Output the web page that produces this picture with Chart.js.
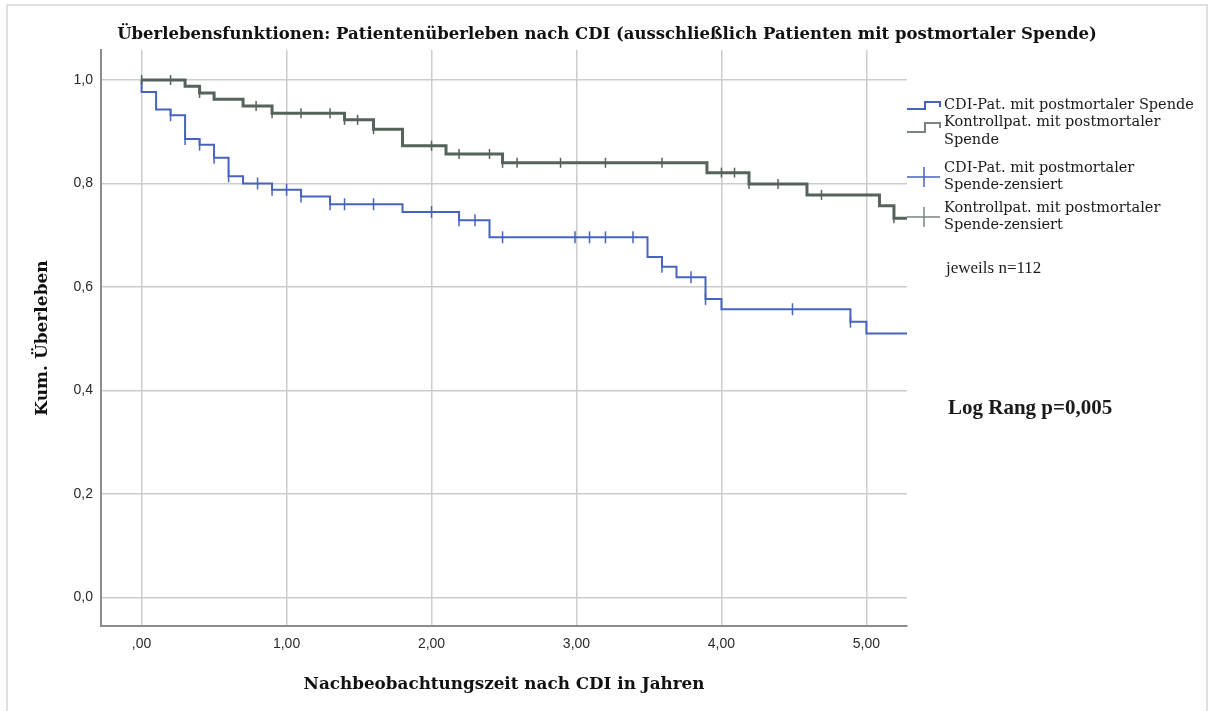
<!DOCTYPE html>
<html>
<head>
<meta charset="utf-8">
<script src="https://cdn.jsdelivr.net/npm/chart.js@4.4.0/dist/chart.umd.min.js"></script>
<style>
  body { margin: 0; background: #fff; }
  #wrap { width: 1208px; height: 711px; }
</style>
</head>
<body>
<div id="wrap"><canvas id="myChart" width="1208" height="711"></canvas></div>
<script>
const chartTitle = 'Überlebensfunktionen: Patientenüberleben nach CDI (ausschließlich Patienten mit postmortaler Spende)';
const xTitle = 'Nachbeobachtungszeit nach CDI in Jahren';
const yTitle = 'Kum. Überleben';

const xTicks = [0, 1, 2, 3, 4, 5];
const xTickLabels = [',00', '1,00', '2,00', '3,00', '4,00', '5,00'];
const yTicks = [0, 0.2, 0.4, 0.6, 0.8, 1.0];
const yTickLabels = ['0,0', '0,2', '0,4', '0,6', '0,8', '1,0'];

// CDI patients: times of the steps and survival after each step
const cdiTimes = [0, 0, 0.1, 0.2, 0.3, 0.4, 0.5, 0.6, 0.7, 0.9, 1.1, 1.3, 1.8, 2.19, 2.4, 3.49, 3.59, 3.69, 3.89, 4.0, 4.89, 5.0, 5.28];
const cdiSurvival = [1.0, 0.977, 0.943, 0.932, 0.886, 0.875, 0.850, 0.814, 0.800, 0.788, 0.775, 0.760, 0.745, 0.729, 0.696, 0.658, 0.639, 0.619, 0.577, 0.557, 0.533, 0.510, 0.510];
const cdiCensTimes = [0.2, 0.3, 0.4, 0.5, 0.6, 0.8, 0.9, 1.0, 1.1, 1.3, 1.4, 1.6, 2.0, 2.19, 2.3, 2.49, 2.99, 3.09, 3.2, 3.39, 3.59, 3.79, 3.89, 4.49, 4.89];
const cdiCensSurvival = [0.932, 0.886, 0.875, 0.850, 0.814, 0.800, 0.788, 0.788, 0.775, 0.760, 0.760, 0.760, 0.745, 0.729, 0.729, 0.696, 0.696, 0.696, 0.696, 0.696, 0.639, 0.619, 0.577, 0.557, 0.533];

// control patients
const ctrlTimes = [0, 0.3, 0.4, 0.5, 0.7, 0.9, 1.4, 1.6, 1.8, 2.1, 2.49, 3.9, 4.19, 4.59, 5.09, 5.19, 5.28];
const ctrlSurvival = [1.0, 0.988, 0.975, 0.963, 0.950, 0.936, 0.923, 0.905, 0.873, 0.857, 0.840, 0.821, 0.799, 0.778, 0.757, 0.733, 0.733];
const ctrlCensTimes = [0, 0.2, 0.4, 0.79, 0.9, 1.1, 1.3, 1.4, 1.49, 1.6, 2.0, 2.19, 2.4, 2.49, 2.59, 2.89, 3.2, 3.59, 4.0, 4.09, 4.19, 4.39, 4.69, 5.19];
const ctrlCensSurvival = [1.0, 1.0, 0.975, 0.950, 0.936, 0.936, 0.936, 0.923, 0.923, 0.905, 0.873, 0.857, 0.857, 0.840, 0.840, 0.840, 0.840, 0.840, 0.821, 0.821, 0.799, 0.799, 0.778, 0.733];

const legendLabels = [
    ['CDI-Pat. mit postmortaler Spende'],
    ['Kontrollpat. mit postmortaler', 'Spende'],
    ['CDI-Pat. mit postmortaler', 'Spende-zensiert'],
    ['Kontrollpat. mit postmortaler', 'Spende-zensiert']
];
const noteText = 'jeweils n=112';
const testText = 'Log Rang p=0,005';

const blue = '#4764bd';
const gray = '#55635a';
const grayLight = '#7b857f';

const toPoints = (xs, ys) => xs.map((x, i) => ({ x: x, y: ys[i] }));

const serif = "'DejaVu Serif', serif";

// title, legend and notes are drawn by hand on the canvas
const extras = {
    id: 'extras',
    beforeDraw(chart) {
        const c = chart.ctx;
        c.save();
        c.strokeStyle = '#d6d6d6';
        c.lineWidth = 1.5;
        c.strokeRect(7, 5, 1200, 720);
        c.restore();
    },
    afterDraw(chart) {
        const c = chart.ctx;
        c.save();
        c.fillStyle = '#111';
        c.textBaseline = 'middle';
        c.textAlign = 'center';
        c.font = "bold 16.5px " + serif;
        c.fillText(chartTitle, 607, 35);

        // legend icons
        c.lineWidth = 2;
        c.strokeStyle = blue;
        c.beginPath();
        c.moveTo(907, 109); c.lineTo(925, 109); c.lineTo(925, 102); c.lineTo(940, 102); c.lineTo(940, 107);
        c.stroke();
        c.strokeStyle = grayLight;
        c.beginPath();
        c.moveTo(907, 132); c.lineTo(925, 132); c.lineTo(925, 123); c.lineTo(940, 123); c.lineTo(940, 128);
        c.stroke();
        c.lineWidth = 1.5;
        c.strokeStyle = blue;
        c.beginPath();
        c.moveTo(907, 177); c.lineTo(940, 177); c.moveTo(924, 167); c.lineTo(924, 187);
        c.stroke();
        c.strokeStyle = grayLight;
        c.beginPath();
        c.moveTo(907, 217); c.lineTo(940, 217); c.moveTo(924, 207); c.lineTo(924, 227);
        c.stroke();

        // legend text
        c.textAlign = 'left';
        c.fillStyle = '#1a1a1a';
        c.font = "14.5px " + serif;
        const lineY = [[105], [122, 140], [168, 185], [208, 225]];
        legendLabels.forEach((lines, i) => {
            lines.forEach((t, j) => c.fillText(t, 944, lineY[i][j]));
        });

        c.font = "17px 'Liberation Serif', serif";
        c.fillText(noteText, 946, 269);
        c.font = "bold 21px 'Liberation Serif', serif";
        c.fillText(testText, 948, 409);
        c.restore();
    }
};

const ctx = document.getElementById('myChart').getContext('2d');

const myChart = new Chart(ctx, { // eslint-disable-line
    type: 'line',
    data: {
        datasets: [
            {
                label: 'CDI-Pat. mit postmortaler Spende',
                data: toPoints(cdiTimes, cdiSurvival),
                stepped: 'before',
                borderColor: blue,
                borderWidth: 2,
                pointRadius: 0,
                order: 2
            },
            {
                label: 'Kontrollpat. mit postmortaler Spende',
                data: toPoints(ctrlTimes, ctrlSurvival),
                stepped: 'before',
                borderColor: gray,
                borderWidth: 3,
                pointRadius: 0,
                order: 1
            },
            {
                label: 'CDI-Pat. mit postmortaler Spende-zensiert',
                data: toPoints(cdiCensTimes, cdiCensSurvival),
                showLine: false,
                pointStyle: 'line',
                rotation: 90,
                pointRadius: 6,
                pointBorderWidth: 1.5,
                borderColor: blue,
                order: 0
            },
            {
                label: 'Kontrollpat. mit postmortaler Spende-zensiert',
                data: toPoints(ctrlCensTimes, ctrlCensSurvival),
                showLine: false,
                pointStyle: 'line',
                rotation: 90,
                pointRadius: 5,
                pointBorderWidth: 1.5,
                borderColor: gray,
                order: 0
            }
        ]
    },
    plugins: [extras],
    options: {
        responsive: false,
        animation: false,
        devicePixelRatio: 1,
        layout: { padding: { left: 0, right: 301, top: 50, bottom: 0 } },
        plugins: {
            legend: { display: false },
            title: { display: false },
            tooltip: { enabled: false }
        },
        scales: {
            x: {
                type: 'linear',
                min: -0.28,
                max: 5.28,
                afterBuildTicks: (axis) => { axis.ticks = xTicks.map(v => ({ value: v })); },
                afterFit: (axis) => { axis.height = 85; },
                ticks: {
                    callback: (v) => xTickLabels[xTicks.indexOf(v)],
                    font: { family: "'Liberation Sans', Arial, sans-serif", size: 14 },
                    color: '#2a2a2a',
                    padding: 10,
                    maxRotation: 0
                },
                grid: { color: '#cccccc', lineWidth: 1.5, drawTicks: false },
                border: { color: '#8c8c8c', width: 2 },
                title: {
                    display: true,
                    text: xTitle,
                    font: { family: serif, size: 16.8, weight: 'bold' },
                    color: '#111',
                    padding: { top: 0, bottom: 16 }
                }
            },
            y: {
                min: -0.055,
                max: 1.058,
                afterBuildTicks: (axis) => { axis.ticks = yTicks.map(v => ({ value: v })); },
                afterFit: (axis) => { axis.width = 101; },
                ticks: {
                    callback: (v) => yTickLabels[yTicks.indexOf(v)],
                    font: { family: "'Liberation Sans', Arial, sans-serif", size: 14 },
                    color: '#2a2a2a',
                    padding: 8
                },
                grid: { color: '#cccccc', lineWidth: 1.5, drawTicks: false },
                border: { color: '#8c8c8c', width: 2 },
                title: {
                    display: true,
                    text: yTitle,
                    font: { family: serif, size: 17, weight: 'bold' },
                    color: '#111',
                    padding: { top: 32, bottom: 0 }
                }
            }
        }
    }
});
</script>
</body>
</html>
